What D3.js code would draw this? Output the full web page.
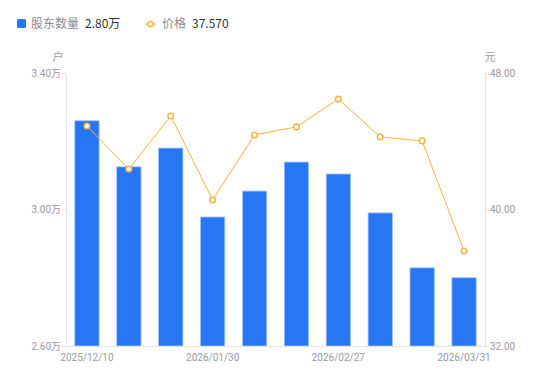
<!DOCTYPE html>
<html>
<head>
<meta charset="utf-8">
<script src="https://cdn.jsdelivr.net/npm/d3@7"></script>
<style>
  html, body { margin: 0; padding: 0; background: #fff; }
  svg { display: block; font-family: "Noto Sans CJK SC", "Noto Sans", sans-serif; }
</style>
</head>
<body>
<svg id="chart" width="550" height="381"></svg>
<script>
// ── Data ──────────────────────────────────────────────────────────────────────
const dates   = ['2025/12/10', '2025/12/20', '2025/12/31', '2026/01/30', '2026/02/10',
                 '2026/02/13', '2026/02/27', '2026/03/10', '2026/03/20', '2026/03/31'];
const holders = [3.26, 3.125, 3.18, 2.978, 3.054, 3.139, 3.104, 2.99, 2.829, 2.80];   // 万户
const prices  = [44.89, 42.37, 45.48, 40.56, 44.37, 44.84, 46.48, 44.25, 44.02, 37.57]; // 元
const shownDates  = ['2025/12/10', '2026/01/30', '2026/02/27', '2026/03/31'];
const leftTicks   = [2.60, 3.00, 3.40];
const rightTicks  = [32, 40, 48];

// ── Dimensions ────────────────────────────────────────────────────────────────
const margin = { top: 73, right: 65, bottom: 35, left: 66 };
const W = 550, H = 381;
const w = W - margin.left - margin.right;
const h = H - margin.top - margin.bottom;

const svg = d3.select('#chart');
const g = svg.append('g').attr('transform', `translate(${margin.left},${margin.top})`);

const axisColor = '#e3e3e6';
const labelColor = '#9a9aa6';

// Scales
const x = d3.scaleBand().domain(dates).range([0, w]).paddingInner(0.42).paddingOuter(0.21);
const yL = d3.scaleLinear().domain([2.6, 3.4]).range([h, 0]);
const yR = d3.scaleLinear().domain([32, 48]).range([h, 0]);

// Bars
g.selectAll('rect.bar')
  .data(holders)
  .join('rect')
  .attr('class', 'bar')
  .attr('x', (d, i) => x(dates[i]))
  .attr('y', d => yL(d))
  .attr('width', x.bandwidth())
  .attr('height', d => h - yL(d))
  .attr('fill', '#2777f5')
  .attr('stroke', '#9fc3fb')
  .attr('stroke-width', 0.8);

// Axes
const styleAxis = sel => {
  sel.select('.domain').attr('stroke', axisColor);
  sel.selectAll('.tick line').attr('stroke', axisColor);
  sel.selectAll('.tick text').attr('fill', labelColor).attr('font-size', 10)
    .attr('font-family', 'Roboto, "Noto Sans CJK SC", sans-serif');
};

g.append('g')
  .call(d3.axisLeft(yL).tickValues(leftTicks).tickSize(4).tickSizeOuter(0)
    .tickFormat(d => d3.format('.2f')(d) + '万'))
  .call(styleAxis)
  .call(s => s.selectAll('.tick text').attr('x', -5));

g.append('g')
  .attr('transform', `translate(${w},0)`)
  .call(d3.axisRight(yR).tickValues(rightTicks).tickSize(4).tickSizeOuter(0)
    .tickFormat(d3.format('.2f')))
  .call(styleAxis)
  .call(s => s.selectAll('.tick text').attr('x', 5));

g.append('g')
  .attr('transform', `translate(0,${h})`)
  .call(d3.axisBottom(x).tickValues(shownDates).tickSize(0).tickPadding(8))
  .call(styleAxis);

// Axis unit labels
g.append('text').attr('x', -8).attr('y', -12).attr('text-anchor', 'middle')
  .attr('font-size', 11).attr('fill', labelColor).text('户');
g.append('text').attr('x', w + 5).attr('y', -12).attr('text-anchor', 'middle')
  .attr('font-size', 11).attr('fill', labelColor).text('元');

// Price line
const cx = (d, i) => x(dates[i]) + x.bandwidth() / 2;
g.append('path')
  .datum(prices)
  .attr('fill', 'none')
  .attr('stroke', '#f6b43c')
  .attr('stroke-width', 1)
  .attr('d', d3.line().x(cx).y(d => yR(d)));

g.selectAll('circle.pt')
  .data(prices)
  .join('circle')
  .attr('class', 'pt')
  .attr('cx', cx)
  .attr('cy', d => yR(d))
  .attr('r', 2.8)
  .attr('fill', '#fff')
  .attr('stroke', '#f6b43c')
  .attr('stroke-width', 1.5);

// ── Legend ────────────────────────────────────────────────────────────────────
const lg = svg.append('g').attr('font-size', 12);
lg.append('rect').attr('x', 17).attr('y', 19).attr('width', 9).attr('height', 9)
  .attr('rx', 1.5).attr('fill', '#2777f5');
lg.append('text').attr('x', 31).attr('y', 28).attr('fill', '#8a8a96').text('股东数量');
lg.append('text').attr('x', 85).attr('y', 28).attr('fill', '#333')
  .text(d3.format('.2f')(holders[holders.length - 1]) + '万');

lg.append('line').attr('x1', 145).attr('x2', 156).attr('y1', 24).attr('y2', 24)
  .attr('stroke', '#f6b43c').attr('stroke-width', 1.2);
lg.append('circle').attr('cx', 150.5).attr('cy', 24).attr('r', 2.6)
  .attr('fill', '#fff').attr('stroke', '#f6b43c').attr('stroke-width', 1.5);
lg.append('text').attr('x', 162).attr('y', 28).attr('fill', '#8a8a96').text('价格');
lg.append('text').attr('x', 192).attr('y', 28).attr('fill', '#333')
  .text(d3.format('.3f')(prices[prices.length - 1]));
</script>
</body>
</html>
